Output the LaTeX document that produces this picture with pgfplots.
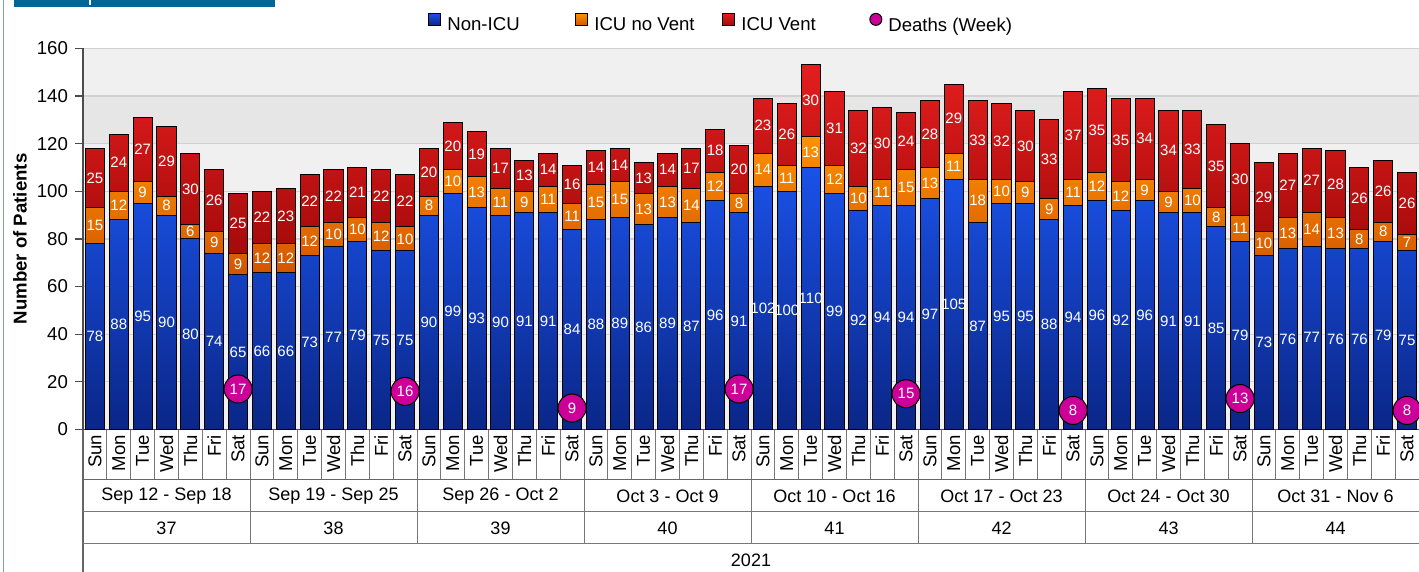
\documentclass[border=0pt]{standalone}
\usepackage{pgfplots}
\pgfplotsset{compat=1.18}
\usepackage{pgfplotstable}
\usepackage{fontspec}
\setmainfont{Liberation Sans}
\definecolor{nonicuT}{RGB}{26,82,232}
\definecolor{nonicuB}{RGB}{10,38,135}
\definecolor{icuT}{RGB}{255,145,0}
\definecolor{icuB}{RGB}{210,85,0}
\definecolor{ventT}{RGB}{228,30,30}
\definecolor{ventB}{RGB}{165,10,10}
\definecolor{deathc}{RGB}{204,0,153}
\definecolor{bgc}{RGB}{240,240,240}
\definecolor{bandc}{RGB}{230,230,230}
\definecolor{titlec}{RGB}{0,102,153}
\definecolor{framec}{RGB}{120,160,210}
\definecolor{cellc}{RGB}{120,120,120}

\pgfplotstableread{
x a b c
0 78 15 25
1 88 12 24
2 95 9 27
3 90 8 29
4 80 6 30
5 74 9 26
6 65 9 25
7 66 12 22
8 66 12 23
9 73 12 22
10 77 10 22
11 79 10 21
12 75 12 22
13 75 10 22
14 90 8 20
15 99 10 20
16 93 13 19
17 90 11 17
18 91 9 13
19 91 11 14
20 84 11 16
21 88 15 14
22 89 15 14
23 86 13 13
24 89 13 14
25 87 14 17
26 96 12 18
27 91 8 20
28 102 14 23
29 100 11 26
30 110 13 30
31 99 12 31
32 92 10 32
33 94 11 30
34 94 15 24
35 97 13 28
36 105 11 29
37 87 18 33
38 95 10 32
39 95 9 30
40 88 9 33
41 94 11 37
42 96 12 35
43 92 12 35
44 96 9 34
45 91 9 34
46 91 10 33
47 85 8 35
48 79 11 30
49 73 10 29
50 76 13 27
51 77 14 27
52 76 13 28
53 76 8 26
54 79 8 26
55 75 7 26
}\days

\pgfplotstableread{
x d
6 17
13 16
20 9
27 17
34 15
41 8
48 13
55 8
}\deaths

\newcommand{\mainfont}{\fontsize{9.3}{11}\selectfont}
\newcommand{\weekfont}{\fontsize{9}{11}\selectfont}
\newcommand{\smallf}{\fontsize{7.5}{8.5}\selectfont}

\pgfplotsset{
  common/.style={
    at={(41.5pt,-214.75pt)}, anchor=south west,
    scale only axis, width=668pt, height=190.6pt,
    xmin=-0.5, xmax=55.5, ymin=0, ymax=160,
    /pgf/number format/assume math mode=true,
  },
  lab/.style={forget plot, only marks, mark=none, nodes near coords, point meta=explicit,
    every node near coord/.style={anchor=center, font=\smallf, text=white, inner sep=0pt}},
}

\begin{document}
\begin{tikzpicture}
\path[use as bounding box] (0,0) rectangle (709.5pt,-286pt);
\clip (0,0) rectangle (709.5pt,-286pt);
\fill[white] (0,0) rectangle (709.5pt,-286pt);
\fill[titlec] (7pt,0) rectangle (137.5pt,-3.5pt);
\fill[white] (44.3pt,0) rectangle (45.6pt,-2.5pt);
\draw[framec, line width=0.8pt] (1.75pt,0) -- (1.75pt,-286pt);

\begin{axis}[common, hide axis, clip=false]
\fill[bgc] (axis cs:-0.5,0) rectangle (axis cs:55.5,160);
\fill[bandc] (axis cs:-0.5,120) rectangle (axis cs:55.5,140);
\end{axis}

\begin{axis}[common,
  ybar stacked, bar width=0.8,
  axis x line*=bottom, axis y line*=left,
  axis line style={draw=black!70, line width=0.6pt},
  ytick={0,20,...,160},
  ymajorgrids, major grid style={draw=black!18, line width=0.6pt},
  xtick={0,...,55},
  xticklabels={Sun,Mon,Tue,Wed,Thu,Fri,Sat,Sun,Mon,Tue,Wed,Thu,Fri,Sat,Sun,Mon,Tue,Wed,Thu,Fri,Sat,Sun,Mon,Tue,Wed,Thu,Fri,Sat,Sun,Mon,Tue,Wed,Thu,Fri,Sat,Sun,Mon,Tue,Wed,Thu,Fri,Sat,Sun,Mon,Tue,Wed,Thu,Fri,Sat,Sun,Mon,Tue,Wed,Thu,Fri,Sat},
  tick align=outside, major tick length=4pt,
  major x tick style={draw=none},
  xticklabel shift=-3pt,
  xticklabel style={rotate=90, anchor=east, font=\mainfont, inner sep=1.5pt},
  major y tick style={draw=black!70, line width=0.6pt},
  yticklabel style={font=\mainfont},
  ylabel={Number of Patients},
  every axis y label/.style={at={(axis description cs:-0.0472,0.5)}, rotate=90, anchor=center, font=\mainfont\bfseries},
]
\addplot[draw=black, line width=0.5pt, top color=nonicuT, bottom color=nonicuB] table[x=x,y=a] {\days};
\addplot[draw=black, line width=0.5pt, top color=icuT, bottom color=icuB] table[x=x,y=b] {\days};
\addplot[draw=black, line width=0.5pt, top color=ventT, bottom color=ventB] table[x=x,y=c] {\days};
\end{axis}

\begin{axis}[common, hide axis, clip=false,
  legend style={at={(0.2582,1.065)}, anchor=west, draw=none, fill=none, inner sep=0pt,
    legend columns=4, font=\mainfont, nodes={inner sep=0pt},
    /tikz/every odd column/.append style={column sep=3pt}},
]
\addlegendimage{legend image code/.code={\draw[black, line width=0.5pt, top color=nonicuT, bottom color=nonicuB] (0pt,0.3pt) rectangle (6pt,6.3pt);}}
\addlegendentry{\makebox[64pt][l]{Non-ICU}}
\addlegendimage{legend image code/.code={\draw[black, line width=0.5pt, top color=icuT, bottom color=icuB] (0pt,0.3pt) rectangle (6pt,6.3pt);}}
\addlegendentry{\makebox[64pt][l]{ICU no Vent}}
\addlegendimage{legend image code/.code={\draw[black, line width=0.5pt, top color=ventT, bottom color=ventB] (0pt,0.3pt) rectangle (6pt,6.3pt);}}
\addlegendentry{\makebox[64pt][l]{ICU Vent}}
\addplot[only marks, mark=*, mark size=7pt, mark options={draw=black, line width=0.5pt, fill=deathc},
  legend image code/.code={\draw[black, line width=0.5pt, fill=deathc] (3pt,3.3pt) circle (3pt);},
  nodes near coords, point meta=explicit,
  every node near coord/.style={anchor=center, font=\smallf, text=white, inner sep=0pt}]
  table[x=x,y=d,meta=d] {\deaths};
\addlegendentry{Deaths (Week)}

\addplot[lab] table[x=x, y expr=\thisrow{a}/2, meta=a] {\days};
\addplot[lab] table[x=x, y expr=\thisrow{a}+\thisrow{b}/2, meta=b] {\days};
\addplot[lab] table[x=x, y expr=\thisrow{a}+\thisrow{b}+\thisrow{c}/2, meta=c] {\days};

% category table
\pgfplotsinvokeforeach{0.5,1.5,...,54.5}{\draw[cellc, line width=0.5pt] (axis cs:#1,0) -- (axis cs:#1,-20.99);}
\pgfplotsinvokeforeach{6.5,13.5,20.5,27.5,34.5,41.5,48.5}{\draw[cellc, line width=0.5pt] (axis cs:#1,-20.99) -- (axis cs:#1,-47.85);}
\draw[black!60, line width=0.6pt] (axis cs:-0.5,0) -- (axis cs:-0.5,-62);
\draw[black!60, line width=0.6pt] (axis cs:-0.5,-20.99) -- (axis cs:57,-20.99);
\draw[cellc, line width=0.5pt] (axis cs:-0.5,-34.50) -- (axis cs:57,-34.50);
\draw[cellc, line width=0.5pt] (axis cs:-0.5,-47.85) -- (axis cs:57,-47.85);
\node[font=\weekfont] at (axis cs:3,-27.91) {Sep 12 - Sep 18};
\node[font=\weekfont] at (axis cs:10,-27.91) {Sep 19 - Sep 25};
\node[font=\weekfont] at (axis cs:17,-27.91) {Sep 26 - Oct 2};
\node[font=\weekfont] at (axis cs:24,-27.91) {Oct 3 - Oct 9};
\node[font=\weekfont] at (axis cs:31,-27.91) {Oct 10 - Oct 16};
\node[font=\weekfont] at (axis cs:38,-27.91) {Oct 17 - Oct 23};
\node[font=\weekfont] at (axis cs:45,-27.91) {Oct 24 - Oct 30};
\node[font=\weekfont] at (axis cs:52,-27.91) {Oct 31 - Nov 6};
\node[font=\weekfont] at (axis cs:3,-41.34) {37};
\node[font=\weekfont] at (axis cs:10,-41.34) {38};
\node[font=\weekfont] at (axis cs:17,-41.34) {39};
\node[font=\weekfont] at (axis cs:24,-41.34) {40};
\node[font=\weekfont] at (axis cs:31,-41.34) {41};
\node[font=\weekfont] at (axis cs:38,-41.34) {42};
\node[font=\weekfont] at (axis cs:45,-41.34) {43};
\node[font=\weekfont] at (axis cs:52,-41.34) {44};
\node[font=\weekfont] at (axis cs:27.5,-54.77) {2021};
\end{axis}
\end{tikzpicture}
\end{document}
